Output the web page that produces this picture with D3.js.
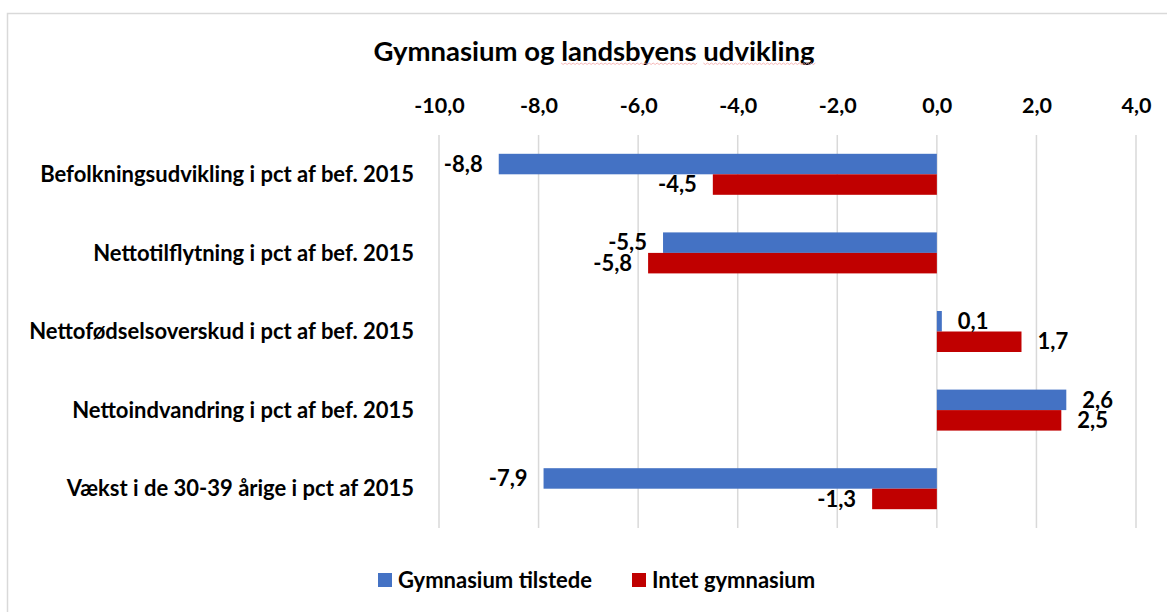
<!DOCTYPE html>
<html>
<head>
<meta charset="utf-8">
<script src="https://cdn.jsdelivr.net/npm/d3@7"></script>
<style>
  body { margin: 0; background: #fff; }
  svg { font-family: Lato, "Open Sans", sans-serif; font-weight: bold; }
</style>
</head>
<body>
<svg id="chart"></svg>
<script>
// data
const categories = [
    "Befolkningsudvikling i pct af bef. 2015",
    "Nettotilflytning i pct af bef. 2015",
    "Nettofødselsoverskud i pct af bef. 2015",
    "Nettoindvandring i pct af bef. 2015",
    "Vækst i de 30-39 årige i pct af 2015"
]
const seriesNames = ["Gymnasium tilstede", "Intet gymnasium"]
const gymnasiumValues = [-8.8, -5.5, 0.1, 2.6, -7.9]
const intetValues = [-4.5, -5.8, 1.7, 2.5, -1.3]
const tickValues = [-10, -8, -6, -4, -2, 0, 2, 4]
const colors = ["#4472C4", "#C00000"]

const width = 1167
const height = 612

const svg = d3.select("#chart")
    .attr("width", width)
    .attr("height", height)

// chart frame (only top and left edges are inside the picture)
svg.append("rect")
    .attr("x", 7.5).attr("y", 13.5)
    .attr("width", 1200).attr("height", 700)
    .attr("fill", "none")
    .attr("stroke", "#d9d9d9")
    .attr("stroke-width", 1.5)

// title
const titleText = "Gymnasium og landsbyens udvikling"
const title = svg.append("text")
    .attr("x", 594).attr("y", 61)
    .attr("text-anchor", "middle")
    .attr("font-size", 27.5)
    .attr("fill", "#000")
    .text(titleText)

// faint spell-check squiggle under the two flagged words
const tNode = title.node()
const tStart = 594 - tNode.getComputedTextLength() / 2
;["landsbyens", "udvikling"].forEach(w => {
    const idx = titleText.indexOf(w)
    const x0 = tStart + tNode.getSubStringLength(0, idx)
    const x1 = x0 + tNode.getSubStringLength(idx, w.length)
    let p = "M" + x0 + ",63"
    for (let x = x0, k = 0; x < x1; x += 2, k++) {
        p += " L" + (x + 2) + "," + (k % 2 ? 63 : 64.5)
    }
    svg.append("path")
        .attr("d", p)
        .attr("fill", "none")
        .attr("stroke", "#f4a6a6")
        .attr("stroke-width", 0.8)
})

const xScale = d3.scaleLinear()
    .domain([-10, 4])
    .range([439, 1136])

const plotTop = 135, plotBottom = 528

const yScale = d3.scaleBand()
    .domain(categories)
    .range([plotTop, plotBottom])

const pairHeight = 41

// gridlines
svg.append("g")
    .selectAll("line")
    .data(tickValues)
    .join("line")
    .attr("x1", d => xScale(d)).attr("x2", d => xScale(d))
    .attr("y1", plotTop).attr("y2", plotBottom)
    .attr("stroke", "#d9d9d9")
    .attr("stroke-width", 1.5)

// top axis
const fmt = v => d3.format(".1f")(v).replace(".", ",").replace("−", "-")

const xAxis = d3.axisTop(xScale)
    .tickValues(tickValues)
    .tickSize(0)
    .tickPadding(0)
    .tickFormat(fmt)

const axisG = svg.append("g")
    .attr("transform", "translate(0,113)")
    .call(xAxis)
axisG.select(".domain").remove()
axisG.selectAll("text")
    .attr("font-size", 21.5)
    .attr("font-family", "Lato, sans-serif")
    .attr("font-weight", "bold")
    .attr("fill", "#000")

// category labels
svg.append("g")
    .selectAll("text")
    .data(categories)
    .join("text")
    .attr("x", 414)
    .attr("y", d => yScale(d) + yScale.bandwidth() / 2)
    .attr("dy", "0.35em")
    .attr("text-anchor", "end")
    .attr("font-size", 22)
    .attr("fill", "#000")
    .text(d => d)

// bars
const rows = []
categories.forEach((c, i) => {
    rows.push({ cat: c, s: 0, v: gymnasiumValues[i] })
    rows.push({ cat: c, s: 1, v: intetValues[i] })
})

const subScale = d3.scaleBand()
    .domain([0, 1])
    .range([0, pairHeight])

const barY = d => yScale(d.cat) + (yScale.bandwidth() - pairHeight) / 2 + subScale(d.s)

svg.append("g")
    .selectAll("rect")
    .data(rows)
    .join("rect")
    .attr("x", d => Math.min(xScale(0), xScale(d.v)))
    .attr("y", barY)
    .attr("width", d => Math.abs(xScale(d.v) - xScale(0)))
    .attr("height", subScale.bandwidth())
    .attr("fill", d => colors[d.s])

// data labels
svg.append("g")
    .selectAll("text")
    .data(rows)
    .join("text")
    .attr("x", d => d.v < 0 ? xScale(d.v) - 16 : xScale(d.v) + 16)
    .attr("y", d => barY(d) + subScale.bandwidth() / 2)
    .attr("dy", "0.35em")
    .attr("text-anchor", d => d.v < 0 ? "end" : "start")
    .attr("font-size", 22)
    .attr("fill", "#000")
    .text(d => fmt(d.v))

// legend
const legendX = [378, 632]
const legend = svg.append("g")
    .selectAll("g")
    .data(seriesNames)
    .join("g")
    .attr("transform", (d, i) => "translate(" + legendX[i] + ",573)")
legend.append("rect")
    .attr("width", 14).attr("height", 14)
    .attr("fill", (d, i) => colors[i])
legend.append("text")
    .attr("x", 20).attr("y", 7)
    .attr("dy", "0.35em")
    .attr("font-size", 22)
    .attr("fill", "#000")
    .text(d => d)
</script>
</body>
</html>
